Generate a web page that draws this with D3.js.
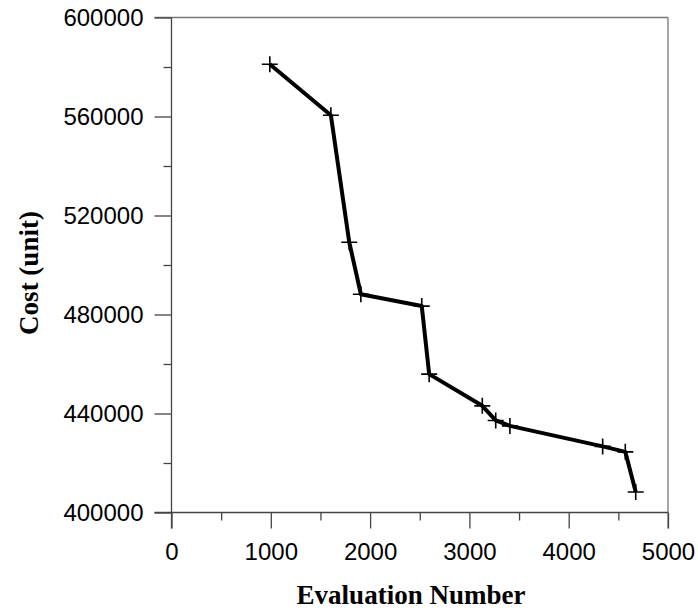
<!DOCTYPE html>
<html>
<head>
<meta charset="utf-8">
<script src="https://cdn.jsdelivr.net/npm/d3@7"></script>
<style>
  body { margin: 0; background: #fff; }
  svg { display: block; }
</style>
</head>
<body>
<div id="chart"></div>
<script>
// evaluation number vs cost
var evals = [990, 1605, 1790, 1907, 2520, 2595, 3130, 3265, 3408, 4342, 4570, 4675];
var costs = [581100, 560500, 509200, 488200, 483400, 455900, 443100, 437200, 435000, 426700, 424500, 408300];
var xTicks = [0, 1000, 2000, 3000, 4000, 5000];
var yTicks = [400000, 440000, 480000, 520000, 560000, 600000];

var width = 698, height = 610,
    margin = {top: 17.5, right: 30, bottom: 97.5, left: 171.5};

var svg = d3.select("#chart").append("svg")
    .attr("width", width)
    .attr("height", height);

var x = d3.scaleLinear().domain([0, 5000]).range([margin.left, width - margin.right]);
var y = d3.scaleLinear().domain([400000, 600000]).range([height - margin.bottom, margin.top]);

var axisColor = "#444";

// frame top + right
svg.append("line")
    .attr("x1", x(0) - 17).attr("x2", x(5000))
    .attr("y1", y(600000)).attr("y2", y(600000))
    .attr("stroke", "#777").attr("stroke-width", 1.3);
svg.append("line")
    .attr("x1", x(5000)).attr("x2", x(5000))
    .attr("y1", y(600000)).attr("y2", y(400000) + 16)
    .attr("stroke", "#777").attr("stroke-width", 1.3);

// x axis
var gx = svg.append("g")
    .attr("transform", "translate(0," + y(400000) + ")")
    .call(d3.axisBottom(x).tickValues(d3.range(0, 5001, 500))
        .tickSize(8).tickFormat(function (d) { return ""; }));
gx.selectAll(".tick line")
    .attr("y2", function (d) { return d % 1000 === 0 ? 16 : 8; });
gx.selectAll(".tick").filter(function (d) { return xTicks.indexOf(d) >= 0; })
    .select("text")
    .attr("y", 30)
    .text(function (d) { return d; });
gx.select(".domain").attr("d", "M" + (x(0) - 17) + ",0H" + x(5000));

// y axis
var gy = svg.append("g")
    .attr("transform", "translate(" + x(0) + ",0)")
    .call(d3.axisLeft(y).tickValues(d3.range(400000, 600001, 20000))
        .tickSize(8).tickFormat(function (d) { return ""; }));
gy.selectAll(".tick line")
    .attr("x2", function (d) { return d % 40000 === 0 ? -17 : -8; });
gy.selectAll(".tick").filter(function (d) { return yTicks.indexOf(d) >= 0; })
    .select("text")
    .attr("x", -28)
    .text(function (d) { return d; });
gy.select(".domain").attr("d", "M0," + y(600000) + "V" + (y(400000) + 16));

svg.selectAll(".domain, .tick line")
    .attr("stroke", axisColor).attr("stroke-width", 1.3);
svg.selectAll(".tick text")
    .attr("fill", "#000")
    .style("font-family", "'Liberation Sans', Arial, sans-serif")
    .style("font-size", "24px");

// axis titles
svg.append("text")
    .attr("x", 411)
    .attr("y", 604)
    .attr("text-anchor", "middle")
    .style("font-family", "'Liberation Serif', 'Times New Roman', serif")
    .style("font-weight", "bold")
    .style("font-size", "27px")
    .text("Evaluation Number");

svg.append("text")
    .attr("transform", "translate(38," + 273 + ")rotate(-90)")
    .attr("text-anchor", "middle")
    .style("font-family", "'Liberation Serif', 'Times New Roman', serif")
    .style("font-weight", "bold")
    .style("font-size", "27px")
    .text("Cost (unit)");

// line + markers
var pts = evals.map(function (d, i) { return [d, costs[i]]; });

svg.append("path")
    .datum(pts)
    .attr("fill", "none")
    .attr("stroke", "#000")
    .attr("stroke-width", 4)
    .attr("stroke-linejoin", "round")
    .attr("d", d3.line().x(function (d) { return x(d[0]); }).y(function (d) { return y(d[1]); }));

svg.selectAll(".mark")
    .data(pts)
    .enter().append("path")
    .attr("class", "mark")
    .attr("transform", function (d) { return "translate(" + x(d[0]) + "," + y(d[1]) + ")"; })
    .attr("d", "M-8,0H8M0,-8V8")
    .attr("stroke", "#000")
    .attr("stroke-width", 1.6);
</script>
</body>
</html>
